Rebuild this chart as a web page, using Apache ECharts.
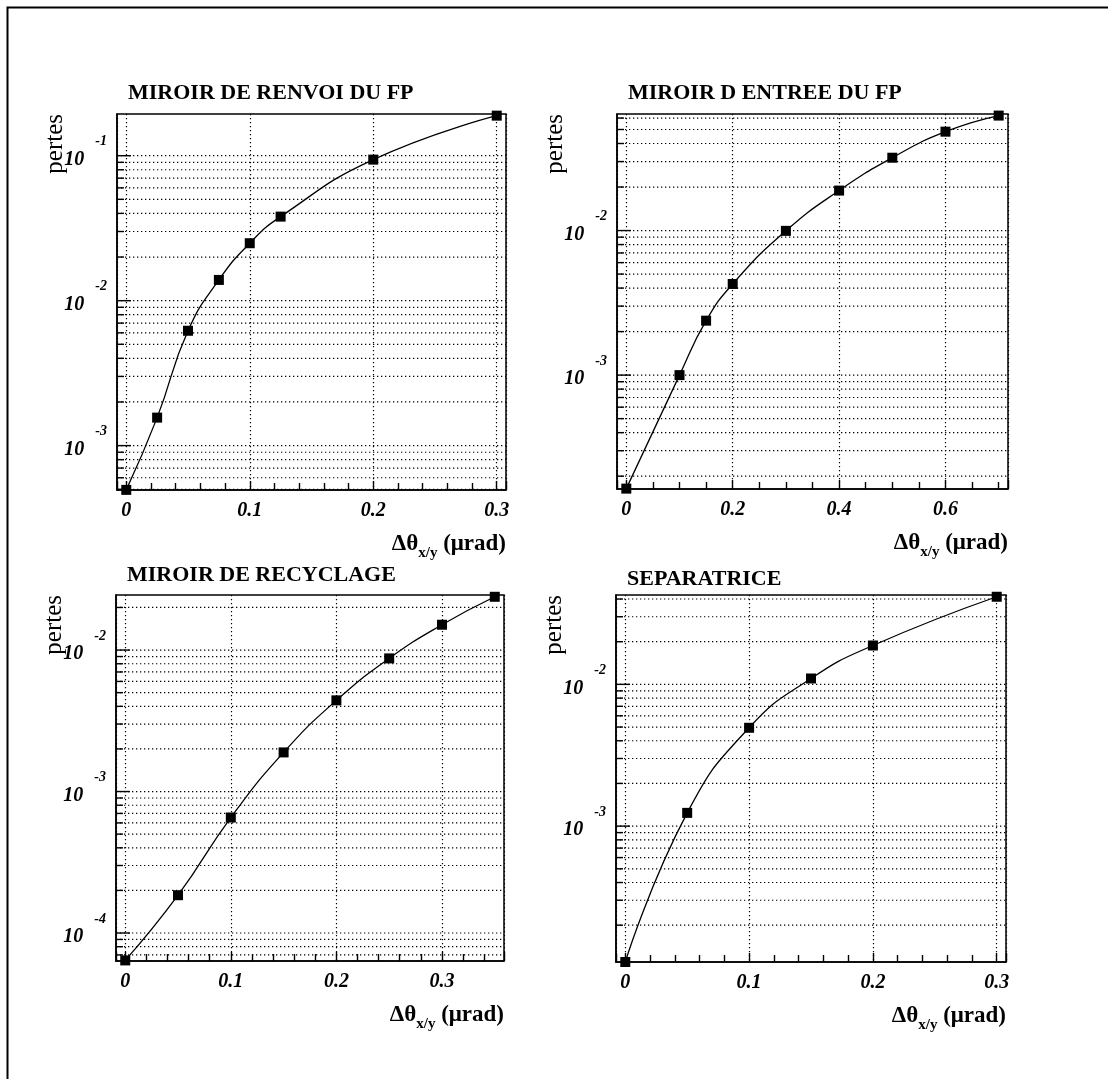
<!DOCTYPE html>
<html>
<head>
<meta charset="utf-8">
<script src="https://cdn.jsdelivr.net/npm/echarts@6/dist/echarts.min.js"></script>
<style>
    html, body { margin: 0; padding: 0; background: #fff; }
    #chart { width: 1108px; height: 1079px; }
</style>
</head>
<body>
<div id="chart"></div>
<script>
// miroir de renvoi du FP
const renvoiX = [0, 0.025, 0.05, 0.075, 0.1, 0.125, 0.2, 0.3];
const renvoiY = [4.95e-4, 1.56e-3, 6.2e-3, 1.39e-2, 2.49e-2, 3.8e-2, 9.4e-2, 0.189];
// miroir d'entree du FP
const entreeX = [0, 0.1, 0.15, 0.2, 0.3, 0.4, 0.5, 0.6, 0.7];
const entreeY = [1.64e-4, 1.0e-3, 2.38e-3, 4.27e-3, 9.95e-3, 1.89e-2, 3.19e-2, 4.83e-2, 6.24e-2];
// miroir de recyclage
const recyclageX = [0, 0.05, 0.1, 0.15, 0.2, 0.25, 0.3, 0.35];
const recyclageY = [6.4e-5, 1.85e-4, 6.55e-4, 1.89e-3, 4.41e-3, 8.73e-3, 1.51e-2, 2.38e-2];
// separatrice
const separatriceX = [0, 0.05, 0.1, 0.15, 0.2, 0.3];
const separatriceY = [1.1e-4, 1.24e-3, 4.94e-3, 1.10e-2, 1.88e-2, 4.15e-2];

const panelTitles = ["MIROIR DE RENVOI DU FP", "MIROIR D ENTREE DU FP", "MIROIR DE RECYCLAGE", "SEPARATRICE"];
const xRanges = [[-0.0075, 0.3075], [-0.0175, 0.7175], [-0.00875, 0.35875], [-0.0075, 0.3075]];
const yRanges = [[4.94e-4, 0.194], [1.63e-4, 0.064], [6.34e-5, 0.0245], [1.10e-4, 0.0427]];
const xSteps = [0.1, 0.2, 0.1, 0.1];
const xMinorSplits = [5, 4, 5, 5];
const yName = "pertes";
const xName = "{m|Δθ}{s|x/y}{m| (μrad)}";

const seriesX = [renvoiX, entreeX, recyclageX, separatriceX];
const seriesY = [renvoiY, entreeY, recyclageY, separatriceY];

// layout of the four frames, px
const boxes = [
    {left: 117, top: 114, width: 389, height: 376, titleY: 93},
    {left: 617, top: 114, width: 391, height: 375, titleY: 93},
    {left: 116, top: 595, width: 388, height: 366, titleY: 575},
    {left: 616, top: 595, width: 390, height: 367, titleY: 579}
];

const FONT = "'Liberation Serif', 'Times New Roman', serif";
const DOT = [1.3, 2.7];

// log grid values 1..9 x 10^n strictly inside the range
function logGrid(range) {
    const out = [];
    const lo = Math.floor(Math.log10(range[0]));
    const hi = Math.floor(Math.log10(range[1]));
    for (let n = lo; n <= hi; n++) {
        for (let k = 1; k <= 9; k++) {
            const v = k * Math.pow(10, n);
            if (v > range[0] && v < range[1]) out.push([v, k === 1 ? 1 : 0]);
        }
    }
    return out;
}

function renderGrid(params, api) {
    const cs = params.coordSys;
    const y = api.coord([api.value(0), api.value(1)])[1];
    const major = api.value(2) === 1;
    return {
        type: 'group',
        children: [
            {type: 'line', shape: {x1: cs.x, y1: y, x2: cs.x + cs.width, y2: y},
                style: {stroke: '#000', lineWidth: 1.2, lineDash: DOT}},
            {type: 'line', shape: {x1: cs.x, y1: y, x2: cs.x + (major ? 14 : 7), y2: y},
                style: {stroke: '#000', lineWidth: 1.4}}
        ]
    };
}

function yLabel(v) {
    const e = Math.log10(v);
    const r = Math.round(e);
    if (Math.abs(e - r) > 1e-4) return '';
    return '{b|10}{e|' + r + '}';
}

const grids = [], xAxes = [], yAxes = [], series = [], titles = [], graphics = [];

graphics.push({
    type: 'rect', left: 5, top: 5, z: 0,
    shape: {x: 0, y: 0, width: 1200, height: 1200},
    style: {fill: 'none', stroke: '#000', lineWidth: 2}
});

boxes.forEach(function (b, i) {
    grids.push({left: b.left, top: b.top, width: b.width, height: b.height,
        show: true, borderColor: '#000', borderWidth: 1.5, backgroundColor: 'transparent'});

    const step = xSteps[i];
    xAxes.push({
        type: 'value', gridIndex: i,
        min: xRanges[i][0], max: xRanges[i][1],
        splitNumber: 3, minInterval: step, maxInterval: step,
        axisLine: {show: true, onZero: false, lineStyle: {color: '#000', width: 1.5}},
        axisTick: {show: true, inside: true, length: 9, lineStyle: {color: '#000', width: 1.4}},
        minorTick: {show: true, splitNumber: xMinorSplits[i], length: 7, lineStyle: {color: '#000', width: 1.4}},
        splitLine: {show: true, lineStyle: {color: '#000', width: 1.2, type: DOT}},
        axisLabel: {
            margin: 11, color: '#000', fontFamily: FONT, fontSize: 20,
            fontStyle: 'italic', fontWeight: 'bold',
            formatter: function (v) {
                const q = v / step;
                if (Math.abs(q - Math.round(q)) > 1e-6) return '';
                return String(Math.round(v * 100) / 100);
            }
        }
    });

    yAxes.push({
        type: 'log', logBase: 10, gridIndex: i,
        min: yRanges[i][0], max: yRanges[i][1],
        axisLine: {show: true, onZero: false, lineStyle: {color: '#000', width: 1.5}},
        axisTick: {show: false},
        splitLine: {show: false},
        axisLabel: {
            margin: 10, verticalAlign: 'middle', padding: [8, 0, 0, 0],
            formatter: yLabel,
            rich: {
                b: {fontFamily: FONT, fontSize: 20, fontStyle: 'italic', fontWeight: 'bold', color: '#000',
                    lineHeight: 20, verticalAlign: 'bottom'},
                e: {fontFamily: FONT, fontSize: 14, fontStyle: 'italic', fontWeight: 'bold', color: '#000',
                    lineHeight: 14, verticalAlign: 'bottom', padding: [0, 0, 21, 11]}
            }
        }
    });

    series.push({
        type: 'custom', xAxisIndex: i, yAxisIndex: i, silent: true, clip: false, z: 1,
        renderItem: renderGrid,
        encode: {x: 0, y: 1},
        data: logGrid(yRanges[i]).map(function (g) { return [xRanges[i][0], g[0], g[1]]; })
    });

    series.push({
        type: 'line', xAxisIndex: i, yAxisIndex: i, z: 3,
        smooth: true,
        symbol: 'rect', symbolSize: 10,
        itemStyle: {color: '#000'},
        lineStyle: {color: '#000', width: 1.3},
        data: seriesX[i].map(function (x, j) { return [x, seriesY[i][j]]; })
    });

    titles.push({
        text: panelTitles[i], left: b.left + 11, top: b.titleY - 11, padding: 0,
        textStyle: {fontFamily: FONT, fontSize: 22, fontWeight: 'bold', color: '#000', lineHeight: 22}
    });

    graphics.push({
        type: 'text', x: b.left - 62, y: b.top, rotation: Math.PI / 2,
        style: {
            text: yName, fill: '#000', fontFamily: FONT, fontSize: 25,
            align: 'right', verticalAlign: 'middle', textAlign: 'right', textVerticalAlign: 'middle'
        }
    });

    graphics.push({
        type: 'text', x: b.left + b.width, y: b.top + b.height + 54,
        style: {
            text: xName, fill: '#000',
            align: 'right', verticalAlign: 'middle', textAlign: 'right', textVerticalAlign: 'middle',
            rich: {
                m: {fontFamily: FONT, fontSize: 23, fontWeight: 'bold', fill: '#000', color: '#000',
                    lineHeight: 23, verticalAlign: 'top'},
                s: {fontFamily: FONT, fontSize: 15, fontWeight: 'bold', fill: '#000', color: '#000',
                    lineHeight: 15, verticalAlign: 'top', padding: [13, 0, 0, 0]}
            }
        }
    });
});

const chartInstance = echarts.init(document.getElementById('chart'), null, {renderer: 'canvas'});
chartInstance.setOption({
    animation: false,
    backgroundColor: '#fff',
    title: titles,
    grid: grids,
    xAxis: xAxes,
    yAxis: yAxes,
    series: series,
    graphic: graphics
});
</script>
</body>
</html>
